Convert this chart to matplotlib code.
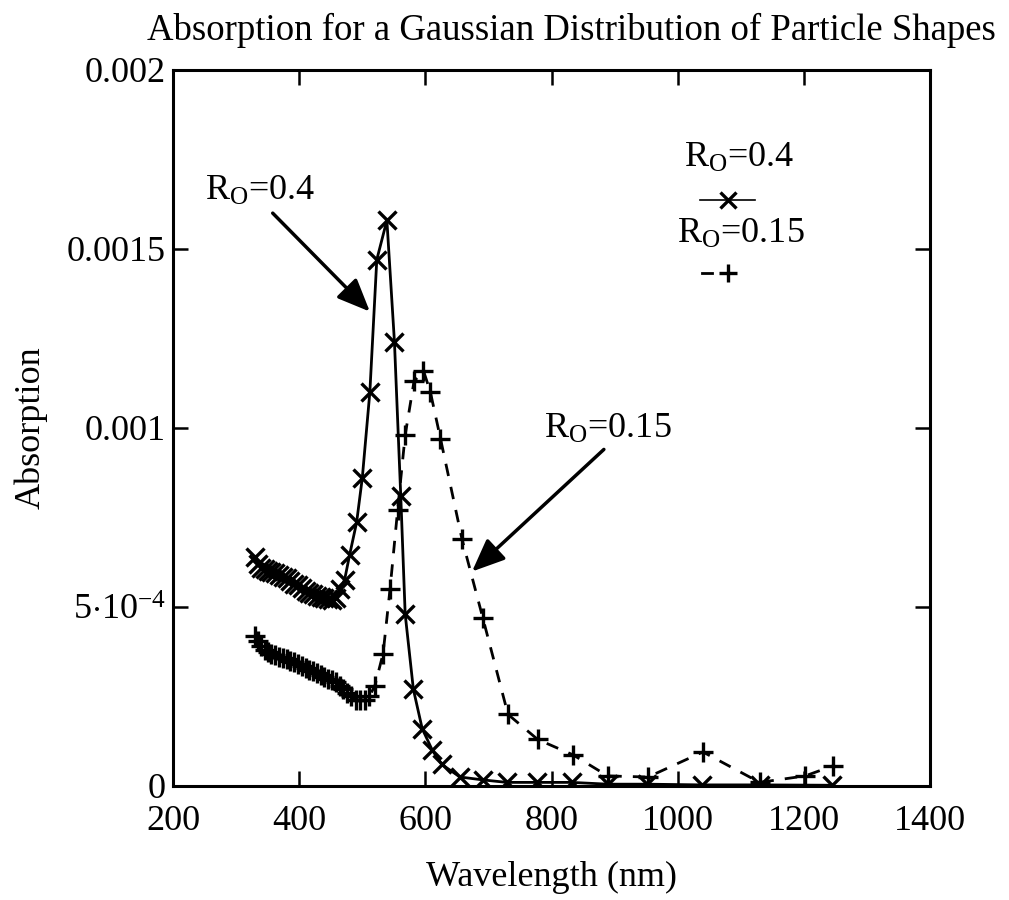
import matplotlib
matplotlib.use("Agg")
import matplotlib.pyplot as plt
from matplotlib.ticker import FixedLocator, FixedFormatter

plt.rcParams['font.family'] = ['Liberation Serif', 'DejaVu Serif']
plt.rcParams['mathtext.fontset'] = 'custom'
plt.rcParams['mathtext.rm'] = 'Liberation Serif'
plt.rcParams['mathtext.it'] = 'Liberation Serif:italic'

# ---- data: R0 = 0.4 (x markers, solid line)
wl_04 = [330, 335, 340, 345, 350, 356, 362, 368, 374, 380, 386, 392, 398, 404,
         410, 416, 422, 428, 434, 440, 446, 452, 458, 465, 472, 480, 491, 500,
         512, 523, 539, 551, 561, 568, 581, 595, 611, 626, 655, 691, 729, 777,
         832, 889, 951, 1038, 1130, 1244]
abs_04 = [0.00064, 0.00062, 0.00061, 0.000605, 0.0006, 0.000598, 0.000595,
          0.00059, 0.000585, 0.00058, 0.000572, 0.000565, 0.00056, 0.000552,
          0.000545, 0.00054, 0.000535, 0.00053, 0.000528, 0.000525, 0.000522,
          0.00052, 0.000525, 0.00055, 0.000576, 0.000646, 0.000736, 0.00086,
          0.0011, 0.00147, 0.00158, 0.00124, 0.00081, 0.00048, 0.00027,
          0.00016, 0.0001, 0.00006, 0.000025, 0.000017, 0.00001, 0.00001,
          0.00001, 0.000005, 0.000005, 0.000003, 0.000003, 0.000002]

# ---- data: R0 = 0.15 (+ markers, dashed line)
wl_015 = [330, 335, 340, 345, 350, 356, 362, 368, 374, 380, 386, 392, 398, 404,
          410, 416, 422, 428, 434, 440, 446, 452, 458, 464, 470, 476, 482, 490,
          497, 504, 511, 520, 533, 544, 556, 568, 582, 597, 608, 624, 658, 691,
          731, 778, 834, 889, 953, 1040, 1130, 1202, 1246]
abs_015 = [0.00042, 0.000405, 0.00039, 0.00038, 0.000375, 0.00037, 0.000365,
           0.00036, 0.000358, 0.000355, 0.00035, 0.000345, 0.00034, 0.000335,
           0.00033, 0.000325, 0.00032, 0.000315, 0.00031, 0.000305, 0.0003,
           0.000295, 0.00029, 0.00028, 0.00027, 0.00026, 0.00025, 0.00024,
           0.00024, 0.00024, 0.00025, 0.00028, 0.00037, 0.00055, 0.00077,
           0.00098, 0.00113, 0.00116, 0.0011, 0.00097, 0.00069, 0.00047,
           0.0002, 0.00013, 0.000087, 0.000028, 0.000025, 0.000095, 0.00001,
           0.000028, 0.000056]

x_ticks = [200, 400, 600, 800, 1000, 1200, 1400]
x_tick_labels = ['200', '400', '600', '800', '1000', '1200', '1400']
y_ticks = [0, 0.0005, 0.001, 0.0015, 0.002]
y_tick_labels = ['0', r'5$\cdot$10$^{-4}$', '0.001', '0.0015', '0.002']

label_04 = r'R$_{\mathrm{O}}$=0.4'
label_015 = r'R$_{\mathrm{O}}$=0.15'

fig = plt.figure(figsize=(10.09, 9.0), dpi=100)
ax = fig.add_axes([0.1715, 0.1267, 0.7502, 0.7956])

ax.plot(wl_04, abs_04, color='black', lw=2.0, marker='x', ms=13, mew=2.4)
ax.plot(wl_015, abs_015, color='black', lw=2.0, ls=(0, (4.5, 4)), marker='+',
        ms=15, mew=2.4)

ax.set_xlim(200, 1400)
ax.set_ylim(0, 0.002)
ax.xaxis.set_major_locator(FixedLocator(x_ticks))
ax.xaxis.set_major_formatter(FixedFormatter(x_tick_labels))
ax.yaxis.set_major_locator(FixedLocator(y_ticks))
ax.yaxis.set_major_formatter(FixedFormatter(y_tick_labels))
ax.tick_params(direction='in', length=11, width=1.8, top=True, right=True,
               labelsize=26)
ax.tick_params(axis='x', pad=14)
ax.tick_params(axis='y', pad=5)
for s in ax.spines.values():
    s.set_linewidth(2.2)

ax.set_xlabel('Wavelength (nm)', fontsize=26, labelpad=16)
ax.set_ylabel('Absorption', fontsize=26, labelpad=14)
fig.text(0.566, 0.966, 'Absorption for a Gaussian Distribution of Particle Shapes',
         ha='center', va='center', fontsize=26.5)

arrow_style = '-|>,head_length=2.0,head_width=0.85'
# annotations
ax.text(339, 0.00166, label_04, fontsize=26, ha='center', va='center')
ax.annotate('', xy=(512, 0.001325), xytext=(358, 0.0016),
            arrowprops=dict(arrowstyle=arrow_style, color='black', lw=2.5,
                            shrinkA=0, shrinkB=0))
ax.text(889, 0.000996, label_015, fontsize=26, ha='center', va='center')
ax.annotate('', xy=(674, 0.000599), xytext=(883, 0.00094),
            arrowprops=dict(arrowstyle=arrow_style, color='black', lw=2.5,
                            shrinkA=0, shrinkB=0))

# legend (label above key)
ax.text(0.748, 0.877, label_04, transform=ax.transAxes, fontsize=26,
        ha='center', va='center')
ax.plot([0.696, 0.769], [0.818, 0.818], transform=ax.transAxes, color='black',
        lw=1.2)
ax.plot([0.733], [0.818], transform=ax.transAxes, color='black', marker='x',
        ms=11, mew=2.4)
ax.text(0.750, 0.770, label_015, transform=ax.transAxes, fontsize=26,
        ha='center', va='center')
ax.plot([0.699, 0.712], [0.716, 0.716], transform=ax.transAxes, color='black',
        lw=2.0)
ax.plot([0.733], [0.716], transform=ax.transAxes, color='black', marker='+',
        ms=13, mew=2.4)

fig.savefig('out.png', dpi=100)
